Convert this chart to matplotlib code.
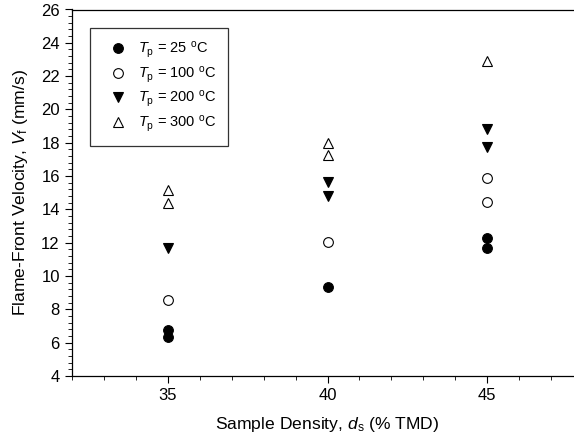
import matplotlib
matplotlib.use("Agg")
import matplotlib.pyplot as plt
from matplotlib.ticker import MultipleLocator

plt.rcParams['font.family'] = ['Liberation Sans', 'DejaVu Sans']
plt.rcParams['mathtext.fontset'] = 'custom'
plt.rcParams['mathtext.rm'] = 'Liberation Sans'
plt.rcParams['mathtext.it'] = 'Liberation Sans:italic'
plt.rcParams['mathtext.bf'] = 'Liberation Sans:bold'

# Data
x_25 = [35, 35, 40, 45, 45]
v_25 = [6.76, 6.36, 9.36, 12.27, 11.67]
x_100 = [35, 40, 45, 45]
v_100 = [8.56, 12.06, 15.9, 14.43]
x_200 = [35, 40, 40, 45, 45]
v_200 = [11.67, 15.66, 14.8, 18.8, 17.76]
x_300 = [35, 35, 40, 40, 45]
v_300 = [15.17, 14.37, 17.97, 17.27, 22.93]

labels = [r'$T_\mathrm{p}$ = 25 $^\mathrm{o}$C',
          r'$T_\mathrm{p}$ = 100 $^\mathrm{o}$C',
          r'$T_\mathrm{p}$ = 200 $^\mathrm{o}$C',
          r'$T_\mathrm{p}$ = 300 $^\mathrm{o}$C']

fig = plt.figure(figsize=(5.74, 4.43), dpi=100)
W, H = 574, 443
left, right, top, bottom = 72.3, 72.3 + 16 * 31.9, 9.5, 376
ax = fig.add_axes([left / W, 1 - bottom / H, (right - left) / W, (bottom - top) / H])

ax.plot(x_25, v_25, 'o', ms=7, mfc='black', mec='black', mew=0.8, ls='none', label=labels[0])
ax.plot(x_100, v_100, 'o', ms=7, mfc='white', mec='black', mew=0.8, ls='none', label=labels[1])
ax.plot(x_200, v_200, 'v', ms=7.5, mfc='black', mec='black', mew=0.8, ls='none', label=labels[2])
ax.plot(x_300, v_300, '^', ms=7.5, mfc='white', mec='black', mew=0.8, ls='none', label=labels[3])

ax.set_xlim(32, 48)
ax.set_ylim(4, 26)
ax.set_xticks([35, 40, 45])
ax.xaxis.set_minor_locator(MultipleLocator(1))
ax.yaxis.set_major_locator(MultipleLocator(2))
ax.yaxis.set_minor_locator(MultipleLocator(0.4))
ax.tick_params(axis='both', which='major', direction='out', length=5, width=0.8, labelsize=12, pad=4)
ax.tick_params(axis='both', which='minor', direction='out', length=3, width=0.6)
ax.tick_params(axis='x', which='both', top=False)
ax.tick_params(axis='y', which='both', right=False)
for s in ax.spines.values():
    s.set_linewidth(0.9)
ax.spines['right'].set_visible(False)

ax.set_xlabel(r'Sample Density, $d_\mathrm{s}$ (% TMD)', fontsize=12.6, labelpad=8)
ax.set_ylabel(r'Flame-Front Velocity, $V_\mathrm{f}$ (mm/s)', fontsize=12.6, labelpad=8)

leg = ax.legend(loc='upper left', bbox_to_anchor=((90 - left) / (right - left), 1 - (28 - top) / (bottom - top)),
                frameon=True, fancybox=False, fontsize=10.5, handletextpad=0.3, labelspacing=0.3,
                borderpad=0.8, handlelength=2.2, borderaxespad=0)
leg.get_frame().set_edgecolor('black')
leg.get_frame().set_linewidth(0.9)

fig.savefig('out.png', dpi=100)
